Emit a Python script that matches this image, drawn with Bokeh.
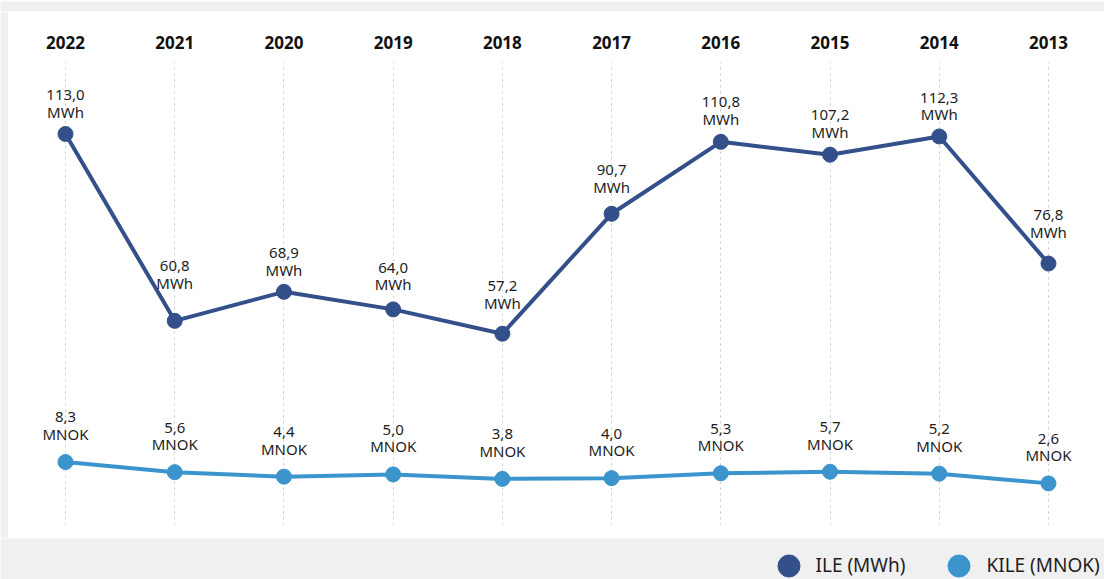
from bokeh.plotting import figure
from bokeh.models import Range1d, FixedTicker, Legend, LegendItem, ColumnDataSource
from bokeh.layouts import column, row
from bokeh.core.properties import value
from bokeh.embed import file_html
from bokeh.resources import INLINE

# ---- data ----
years = ["2022", "2021", "2020", "2019", "2018", "2017", "2016", "2015", "2014", "2013"]
ile_mwh = [113.0, 60.8, 68.9, 64.0, 57.2, 90.7, 110.8, 107.2, 112.3, 76.8]
kile_mnok = [8.3, 5.6, 4.4, 5.0, 3.8, 4.0, 5.3, 5.7, 5.2, 2.6]

# ---- style ----
ILE_COLOR = "#34508A"
KILE_COLOR = "#3B94CC"
TEXT_COLOR = "#1e1e1e"
PAGE_BG = "#f0f0f0"
FONT = "Noto Sans"
ile_label_gap = [12, 28, 12, 15, 21, 17, 13, 13, 12, 22]   # px above the point
kile_label_gap = 18

xs = list(range(len(years)))

def fmt(v):
    return f"{v:.1f}".replace(".", ",")

src = ColumnDataSource(dict(
    x=xs,
    ile=ile_mwh,
    kile=kile_mnok,
    ile_lab=[fmt(v) + "\nMWh" for v in ile_mwh],
    kile_lab=[fmt(v) + "\nMNOK" for v in kile_mnok],
    ile_off=[-g for g in ile_label_gap],
))

def strip(w, h):
    f = figure(width=w, height=h, x_range=Range1d(0, 1), y_range=Range1d(0, 1),
               output_backend="svg", toolbar_location=None,
               x_axis_location=None, y_axis_location=None, min_border=0,
               background_fill_color=PAGE_BG, border_fill_color=PAGE_BG,
               outline_line_color=None)
    f.grid.visible = False
    return f

p = figure(width=1096, height=527,
           x_range=Range1d(-0.522, 9.513), y_range=Range1d(3.63, 132.96),
           output_backend="svg", toolbar_location=None,
           x_axis_location="above", y_axis_location=None,
           min_border_left=0, min_border_right=0, min_border_bottom=13, min_border_top=51,
           background_fill_color="white", border_fill_color="white",
           outline_line_color=None)
p.extra_y_ranges = {"kile": Range1d(-8.67, 115.2)}

ax = p.xaxis[0]
ax.ticker = FixedTicker(ticks=xs)
ax.major_label_overrides = {i: y for i, y in enumerate(years)}
ax.axis_line_color = None
ax.major_tick_line_color = None
ax.minor_tick_line_color = None
ax.major_tick_out = 0
ax.major_tick_in = 0
ax.major_label_standoff = 14
ax.major_label_text_font = FONT
ax.major_label_text_font_style = "bold"
ax.major_label_text_font_size = "17px"
ax.major_label_text_color = "#111111"

p.xgrid.ticker = FixedTicker(ticks=xs)
p.xgrid.grid_line_color = "#c8c8c8"
p.xgrid.grid_line_dash = "2 4"
p.xgrid.grid_line_width = 1
p.ygrid.visible = False

# ILE
p.line("x", "ile", source=src, line_color=ILE_COLOR, line_width=4)
p.scatter("x", "ile", source=src, size=15, fill_color=ILE_COLOR, line_color=ILE_COLOR)
p.text("x", "ile", text="ile_lab", source=src, y_offset="ile_off",
       text_align="center", text_baseline="bottom", text_line_height=0.88,
       text_font=value(FONT), text_font_size="15px", text_color=TEXT_COLOR)

# KILE
p.line("x", "kile", source=src, line_color=KILE_COLOR, line_width=4, y_range_name="kile")
p.scatter("x", "kile", source=src, size=15, fill_color=KILE_COLOR, line_color=KILE_COLOR,
          y_range_name="kile")
p.text("x", "kile", text="kile_lab", source=src, y_offset=-kile_label_gap, y_range_name="kile",
       text_align="center", text_baseline="bottom", text_line_height=0.88,
       text_font=value(FONT), text_font_size="15px", text_color=TEXT_COLOR)

# legend strip
p2 = strip(1104, 41)
r1 = p2.scatter(x=[5], y=[5], size=15, fill_color=ILE_COLOR, line_color=ILE_COLOR)
r2 = p2.scatter(x=[5], y=[5], size=15, fill_color=KILE_COLOR, line_color=KILE_COLOR)
legend = Legend(items=[LegendItem(label="ILE (MWh)", renderers=[r1]),
                       LegendItem(label="KILE (MNOK)", renderers=[r2])],
                orientation="horizontal", location=(760.5, -13.5),
                glyph_width=55, glyph_height=55, label_standoff=0, spacing=26,
                padding=0, margin=0, background_fill_alpha=0, border_line_color=None,
                label_text_font=FONT, label_text_font_size="19px", label_text_color=TEXT_COLOR)
p2.add_layout(legend)

top = strip(1104, 11)
left = strip(8, 527)

layout = column(top, row(left, p, spacing=0), p2, spacing=0)
open("out.html", "w").write(file_html(layout, INLINE))
